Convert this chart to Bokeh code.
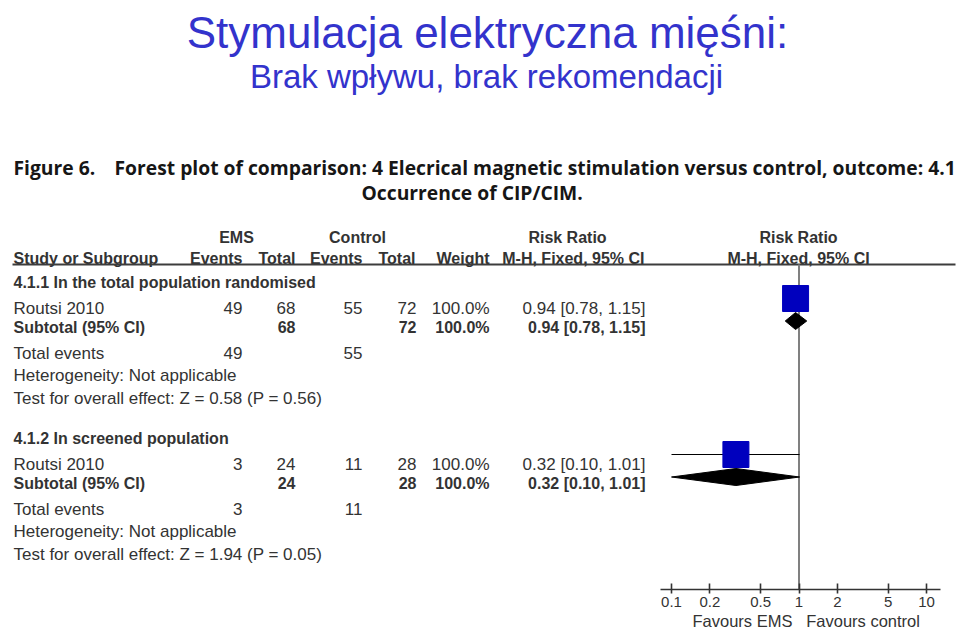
from bokeh.plotting import figure
from bokeh.models import Range1d, LogScale, LogAxis, FixedTicker, Title
from bokeh.core.properties import value
from bokeh.embed import file_html
from bokeh.resources import INLINE

# ---------------- data ----------------
title_lines = ["Stymulacja elektryczna mięśni:", "Brak wpływu, brak rekomendacji"]
caption_label = "Figure 6."
caption_line1 = "Forest plot of comparison: 4 Elecrical magnetic stimulation versus control, outcome: 4.1"
caption_line2 = "Occurrence of CIP/CIM."

subgroups = ["4.1.1 In the total population randomised", "4.1.2 In screened population"]
studies = ["Routsi 2010", "Routsi 2010"]
ems_events = [49, 3]
ems_total = [68, 24]
ctrl_events = [55, 11]
ctrl_total = [72, 28]
weights = [100.0, 100.0]
rr = [0.94, 0.32]
ci_low = [0.78, 0.10]
ci_high = [1.15, 1.01]
heterogeneity = ["Not applicable", "Not applicable"]
z_values = [0.58, 1.94]
p_values = [0.56, 0.05]

ticks = [0.1, 0.2, 0.5, 1, 2, 5, 10]
tick_labels = ["0.1", "0.2", "0.5", "1", "2", "5", "10"]
favours = ["Favours EMS", "Favours control"]

# ---------------- layout constants ----------------
W, H = 960, 635
FRAME_H = 589
FONT = "Liberation Sans"
CAP_FONT = "Open Sans"
TXT = "#333333"

# log scale mapping: 0.1 -> 671 px, one decade = 127.5 px
X01, DEC = 671.0, 127.5
lo_log = -1 - X01 / DEC
hi_log = -1 + (W - X01) / DEC

p = figure(width=W, height=H, x_range=Range1d(0, W), y_range=Range1d(FRAME_H, 0),
           x_axis_location=None, y_axis_location=None, toolbar_location=None,
           output_backend="svg", min_border=0, min_border_bottom=H - FRAME_H,
           outline_line_color=None)
p.grid.visible = False
p.background_fill_color = "white"
p.border_fill_color = "white"
p.extra_x_ranges = {"rr": Range1d(10 ** lo_log, 10 ** hi_log)}
p.extra_x_scales = {"rr": LogScale()}


def txt(x, y, s, size, bold=False, align="left", color=TXT, font=FONT, baseline="alphabetic"):
    p.text(x=[x], y=[y], text=[s], text_font=value(font), text_font_size=f"{size}px",
           text_font_style="bold" if bold else "normal", text_align=align,
           text_baseline=baseline, text_color=color)


# title
txt(487, 32, title_lines[0], 44, align="center", color="#3333CC")
txt(486, 76, title_lines[1], 33, align="center", color="#3333CC")

# caption
CS = 19.3
txt(13, 167, caption_label, CS, bold=True, color="#161616", font=CAP_FONT)
txt(114, 167, caption_line1, CS, bold=True, color="#161616", font=CAP_FONT)
txt(361, 192, caption_line2, CS, bold=True, color="#161616", font=CAP_FONT)

# column headers
HB = 16
txt(236, 237, "EMS", HB, True, "center")
txt(357, 237, "Control", HB, True, "center")
txt(567, 237, "Risk Ratio", HB, True, "center")
txt(798, 237, "Risk Ratio", HB, True, "center")
txt(13, 258, "Study or Subgroup", HB, True)
txt(242, 258, "Events", HB, True, "right")
txt(295, 258, "Total", HB, True, "right")
txt(362, 258, "Events", HB, True, "right")
txt(415, 258, "Total", HB, True, "right")
txt(489, 258, "Weight", HB, True, "right")
txt(644, 258, "M-H, Fixed, 95% CI", HB, True, "right")
txt(798, 258, "M-H, Fixed, 95% CI", HB, True, "center")

# header rule
p.segment(x0=[12], y0=[264], x1=[955], y1=[264], line_color="#3c3c3c", line_width=2)

# vertical no-effect line
p.segment(x0=[1], y0=[264], x1=[1], y1=[FRAME_H + 2], x_range_name="rr",
          line_color="#808080", line_width=2)

RS = 17  # regular size
group_base = [282, 438]
offs = [0, 25.5, 44.5, 70.5, 93, 115.5]
for i in range(len(subgroups)):
    b = group_base[i]
    y_sub, y_study, y_tot, y_evt, y_het, y_test = [b + o for o in offs]
    txt(13, y_sub, subgroups[i], HB, True)
    # study row
    txt(13, y_study, studies[i], RS)
    txt(242, y_study, str(ems_events[i]), RS, align="right")
    txt(295, y_study, str(ems_total[i]), RS, align="right")
    txt(362, y_study, str(ctrl_events[i]), RS, align="right")
    txt(416, y_study, str(ctrl_total[i]), RS, align="right")
    txt(489, y_study, f"{weights[i]:.1f}%", RS, align="right")
    ci = f"{rr[i]:.2f} [{ci_low[i]:.2f}, {ci_high[i]:.2f}]"
    txt(645, y_study, ci, RS, align="right")
    # subtotal row
    txt(13, y_tot, "Subtotal (95% CI)", HB, True)
    txt(295, y_tot, str(ems_total[i]), HB, True, "right")
    txt(416, y_tot, str(ctrl_total[i]), HB, True, "right")
    txt(489, y_tot, f"{weights[i]:.1f}%", HB, True, "right")
    txt(645, y_tot, ci, HB, True, "right")
    # totals / stats
    txt(13, y_evt, "Total events", RS)
    txt(242, y_evt, str(ems_events[i]), RS, align="right")
    txt(362, y_evt, str(ctrl_events[i]), RS, align="right")
    txt(13, y_het, f"Heterogeneity: {heterogeneity[i]}", RS)
    txt(13, y_test, f"Test for overall effect: Z = {z_values[i]:.2f} (P = {p_values[i]:.2f})", RS)

    # forest marks
    yc = y_study - 9.5
    p.segment(x0=[ci_low[i]], y0=[yc], x1=[ci_high[i]], y1=[yc], x_range_name="rr",
              line_color="black", line_width=1.2)
    p.scatter(x=[rr[i]], y=[yc], marker="square", size=26, x_range_name="rr",
              fill_color="#0000BE", line_color="#0000BE")
    yd = y_tot - 6
    h = 8.5
    p.patches(xs=[[ci_low[i], rr[i], ci_high[i], rr[i]]], ys=[[yd, yd - h, yd, yd + h]],
              x_range_name="rr", fill_color="black", line_color="black", line_width=1)

# log axis
ax = LogAxis(x_range_name="rr")
ax.ticker = FixedTicker(ticks=ticks, minor_ticks=[])
ax.major_label_overrides = {t: l for t, l in zip(ticks, tick_labels)}
ax.bounds = (0.082, 12.9)
ax.axis_line_color = "#333333"
ax.axis_line_width = 1.6
ax.major_tick_line_color = "#333333"
ax.major_tick_line_width = 1.6
ax.major_tick_in = 6
ax.major_tick_out = 4
ax.minor_tick_in = 0
ax.minor_tick_out = 0
ax.major_label_standoff = 3
ax.major_label_text_font = FONT
ax.major_label_text_font_size = "15px"
ax.major_label_text_color = TXT
p.add_layout(ax, "below")

# "Favours ..." captions under the axis
fav = Title(text=favours[0] + "\u00a0" * 3 + favours[1], align="left", offset=692,
            text_font=FONT, text_font_size="16.5px", text_font_style="normal",
            text_color=TXT, standoff=1)
p.add_layout(fav, "below")

open("out.html", "w").write(file_html(p, INLINE))
